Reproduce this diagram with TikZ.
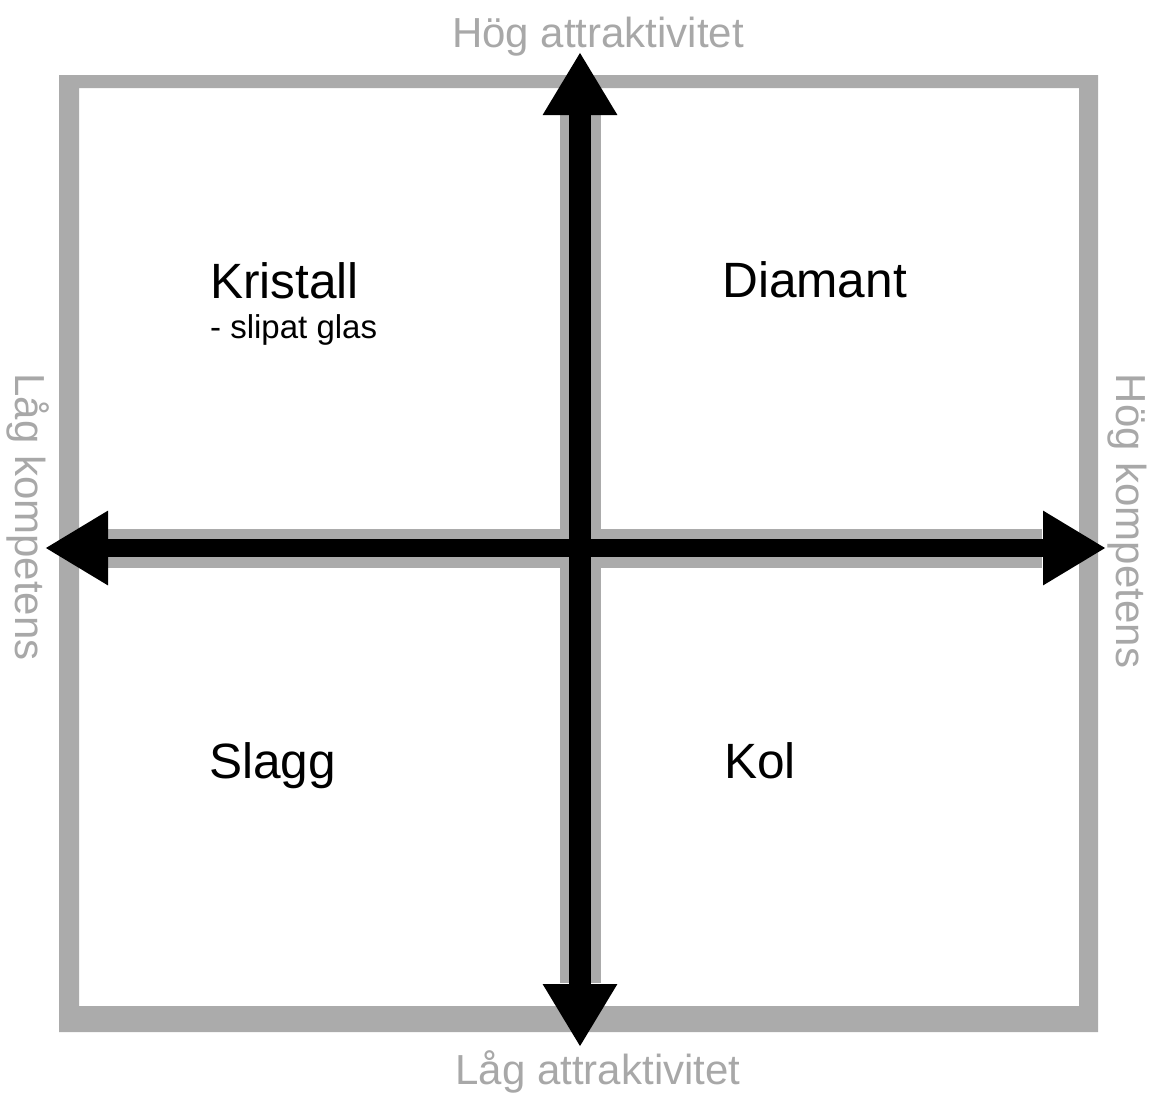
\documentclass[tikz,border=0pt]{standalone}
\usepackage{fontspec}
\setmainfont{Liberation Sans}
\usetikzlibrary{arrows.meta}
\definecolor{framegray}{HTML}{ABABAB}
\definecolor{labelgray}{HTML}{A8A8A8}
\tikzset{
  quadlabel/.style={anchor=base west, inner sep=0pt, text=black, font=\fontsize{49.6}{56}\selectfont},
  sublabel/.style={anchor=base west, inner sep=0pt, text=black, font=\fontsize{33}{40}\selectfont},
  axislabel/.style={inner sep=0pt, text=labelgray, font=\fontsize{42}{48}\selectfont},
  halo/.style={draw=framegray, line cap=butt},
  axisarrow/.style={draw=black, line cap=butt, {Triangle[length=63pt,width=70pt]}-{Triangle[length=63pt,width=70pt]}}
}
\begin{document}
\begin{tikzpicture}[x=1pt,y=-1pt]
\useasboundingbox (0,0) rectangle (1155,1093);
% frame
\fill[framegray, even odd rule] (59,75) rectangle (1098,1032) (79,88) rectangle (1079,1006);
% coordinates
\coordinate (top) at (580,52);
\coordinate (bottom) at (580,1047);
\coordinate (left) at (45,548);
\coordinate (right) at (1106,548);
\coordinate (vtopbase) at (580,113);
\coordinate (vbotbase) at (580,983);
\coordinate (hleftbase) at (108,548);
\coordinate (hrightbase) at (1042,548);
% gray halos
\draw[halo, line width=41pt] (vtopbase) -- (vbotbase);
\draw[halo, line width=39pt] (hleftbase) -- (hrightbase);
% black axes
\draw[axisarrow, line width=22pt] (bottom) -- (top);
\draw[axisarrow, line width=18pt] (left) -- (right);
% quadrant labels
\node[quadlabel] (kristall) at (210,298) {Kristall};
\node[sublabel] (slipat) at (210,338) {- slipat glas};
\node[quadlabel] (diamant) at (722,297) {Diamant};
\node[quadlabel] (slagg) at (209,778) {Slagg};
\node[quadlabel] (kol) at (724,778) {Kol};
% axis labels
\node[axislabel, anchor=base] (hogattr) at (598,47) {Hög attraktivitet};
\node[axislabel, anchor=base] (lagattr) at (598,1084) {Låg attraktivitet};
\node[axislabel, rotate=-90, anchor=base] (lagkomp) at (15,517) {Låg kompetens};
\node[axislabel, rotate=-90, anchor=base] (hogkomp) at (1116,521) {Hög kompetens};
\end{tikzpicture}
\end{document}
